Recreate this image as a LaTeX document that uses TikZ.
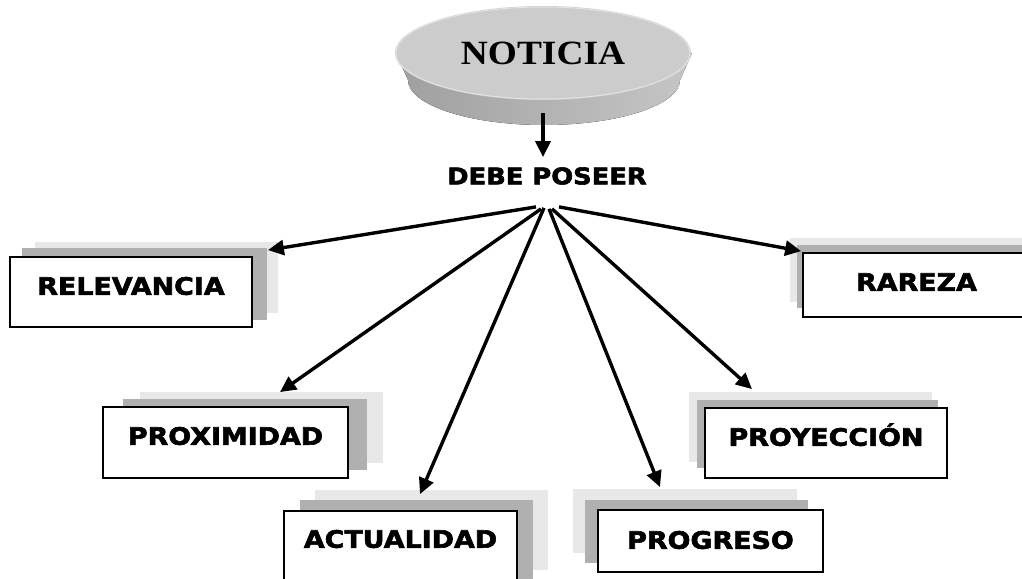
\documentclass[tikz,border=0pt]{standalone}
\usepackage{fontspec}
\newfontfamily\titlefont[FakeStretch=1.1]{Liberation Serif Bold}
\newfontfamily\boxfont[FakeStretch=1.12,FakeBold=2.5]{DejaVu Sans Bold}
\usetikzlibrary{arrows.meta}

\tikzset{
  concept/.style={draw=black, line width=1.8pt, fill=white, inner sep=0pt,
    font=\boxfont\fontsize{24pt}{26pt}\selectfont, text height=17.5pt, text depth=12pt},
  darkshadow/.style={fill=gray!62},
  lightshadow/.style={fill=gray!18},
  link/.style={line width=3.4pt, -{Triangle[length=16pt,width=15pt]}}
}

\begin{document}
\begin{tikzpicture}[x=1pt,y=-1pt]
		\useasboundingbox (0,0) rectangle (1022,578);
		
		% disc
		\fill[left color=gray!75, right color=gray!45] (396,53) -- (408,80) arc[start angle=180, end angle=0, x radius=136, y radius=45] -- (692,53) -- cycle;
		\fill[gray!40] (543,53) ellipse [x radius=148, y radius=47];
		\draw[gray!22, line width=1pt] (543,53) ellipse [x radius=147, y radius=46];
		\node[font=\titlefont\fontsize{34pt}{36pt}\selectfont] (noticia) at (543,53) {NOTICIA};
		
		\node[font=\boxfont\fontsize{23pt}{25pt}\selectfont, inner sep=10pt] (debe) at (547,176) {DEBE POSEER};
		\coordinate (hub) at ([yshift=-12pt]debe.south);
		
		% shadows
		\fill[lightshadow] (35,242) rectangle (278,313);
		\fill[darkshadow] (22,248) rectangle (267,320);
		\fill[lightshadow] (790,238) rectangle (1030,302);
		\fill[darkshadow] (797,245) rectangle (1030,308);
		\fill[lightshadow] (140,392) rectangle (383,463);
		\fill[darkshadow] (123,399) rectangle (367,470);
		\fill[lightshadow] (315,490) rectangle (548,570);
		\fill[darkshadow] (300,500) rectangle (533,590);
		\fill[lightshadow] (573,489) rectangle (797,553);
		\fill[darkshadow] (585,500) rectangle (808,563);
		\fill[lightshadow] (689,392) rectangle (932,462);
		\fill[darkshadow] (697,400) rectangle (938,468);
		
		% boxes
		\node[concept, minimum width=242pt, minimum height=70pt] (relevancia) at (131,292) {RELEVANCIA};
		\node[concept, minimum width=227pt, minimum height=64pt, text depth=6pt] (rareza) at (916.5,285) {RAREZA};
		\node[concept, minimum width=245pt, minimum height=71pt, text depth=13pt] (proximidad) at (225.5,442.5) {PROXIMIDAD};
		\node[concept, minimum width=233pt, minimum height=70pt, text depth=14pt] (actualidad) at (400.5,546) {ACTUALIDAD};
		\node[concept, minimum width=225pt, minimum height=62pt, text depth=2pt] (progreso) at (710.5,541) {PROGRESO};
		\node[concept, minimum width=242pt, minimum height=70pt] (proyeccion) at (826,443) {PROYECCIÓN};
		
		% arrows
		\draw[link] ([yshift=-60pt]noticia.center) -- (debe.north -| noticia.center);
		\draw[link] ([xshift=-11pt]hub) -- ([xshift=15pt,yshift=6pt]relevancia.north east);
		\draw[link] ([xshift=-6pt,yshift=-2pt]hub) -- ([xshift=54.5pt,yshift=14pt]proximidad.north);
		\draw[link] ([xshift=-3pt,yshift=-1pt]hub) -- ([xshift=19.5pt,yshift=16pt]actualidad.north);
		\draw[link] ([xshift=2pt,yshift=-2pt]hub) -- ([xshift=-50.5pt,yshift=22pt]progreso.north);
		\draw[link] ([xshift=5pt,yshift=-2pt]hub) -- ([xshift=-74pt,yshift=18pt]proyeccion.north);
		\draw[link] ([xshift=12pt]hub) -- ([xshift=-1pt,yshift=1pt]rareza.north west);
	\end{tikzpicture}
\end{document}
